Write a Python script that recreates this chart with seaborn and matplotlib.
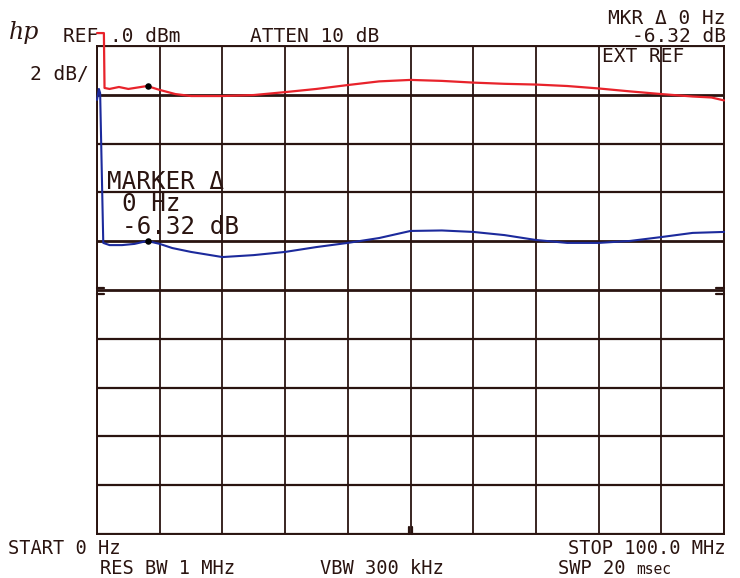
import numpy as np
import pandas as pd
import matplotlib
matplotlib.use("Agg")
import matplotlib.pyplot as plt
import seaborn as sns

# ---- data (MHz, dB relative to REF) ----
red_freq = [0.0, 1.1, 1.2, 2, 3.5, 5, 7, 8, 10, 12.5, 15, 20, 25, 30, 35, 40, 45, 50,
            55, 60, 65, 70, 75, 80, 85, 90, 95, 98, 100]
red_db = [0.53, 0.53, -1.72, -1.76, -1.68, -1.76, -1.68, -1.64, -1.80, -1.97, -2.05, -2.05,
          -2.01, -1.89, -1.76, -1.60, -1.45, -1.39, -1.43, -1.50, -1.55, -1.58, -1.64,
          -1.74, -1.86, -1.97, -2.07, -2.11, -2.23]

blue_freq = [0.0, 0.3, 0.5, 1.0, 2, 4, 6, 8, 10, 12, 15, 20, 25, 30, 35, 40, 45, 50,
             55, 60, 65, 70, 75, 80, 85, 90, 95, 100]
blue_db = [-2.21, -1.76, -1.93, -8.07, -8.16, -8.16, -8.11, -7.99, -8.11, -8.28, -8.44,
           -8.65, -8.57, -8.44, -8.24, -8.07, -7.87, -7.58, -7.56, -7.62, -7.75, -7.95,
           -8.07, -8.07, -7.99, -7.83, -7.66, -7.62]

marker_freq = [8.1, 8.1]
marker_db = [-1.64, -7.99]

x_ticks = list(range(0, 101, 10))
y_ticks = list(range(-20, 1, 2))

red_df = pd.DataFrame({"freq": red_freq, "db": red_db})
blue_df = pd.DataFrame({"freq": blue_freq, "db": blue_db})
mk_df = pd.DataFrame({"freq": marker_freq, "db": marker_db})

sns.set_style("white")
plt.rcParams["font.family"] = ["DejaVu Sans Mono", "DejaVu Sans"]

W, H = 740, 578
fig = plt.figure(figsize=(W / 100, H / 100), dpi=100)
L, R, T, B = 97, 724, 46, 534
ax = fig.add_axes([L / W, 1 - B / H, (R - L) / W, (B - T) / H])

grid_c = "#2a1410"
ax.set_xlim(0, 100)
ax.set_ylim(-20, 0)
for xv in x_ticks:
    ax.axvline(xv, color=grid_c, lw=1.3, zorder=1)
for yv in y_ticks:
    lw = 2.0 if yv in (-2, -8, -10) else 1.6
    ax.axhline(yv, color=grid_c, lw=lw, zorder=1)
ax.set_xticks([])
ax.set_yticks([])
for s in ax.spines.values():
    s.set_color(grid_c)
    s.set_linewidth(1.4)

sns.lineplot(data=red_df, x="freq", y="db", ax=ax, color="#e8232b", lw=1.6,
             sort=False, estimator=None, clip_on=False, zorder=3)
sns.lineplot(data=blue_df, x="freq", y="db", ax=ax, color="#1c2a9c", lw=1.5,
             sort=False, estimator=None, clip_on=False, zorder=3)
sns.scatterplot(data=mk_df, x="freq", y="db", ax=ax, color="black", s=22,
                zorder=4, linewidth=0)
ax.set_xlabel("")
ax.set_ylabel("")

# small reference ticks
tk = dict(color=grid_c, lw=1.6, clip_on=False, zorder=2)
ax.plot([0, 1.1], [-9.9, -9.9], **tk)
ax.plot([0, 1.1], [-10.15, -10.15], **tk)
ax.plot([98.8, 100], [-9.9, -9.9], **tk)
ax.plot([98.8, 100], [-10.15, -10.15], **tk)
ax.plot([49.8, 49.8], [-20, -19.7], **tk)
ax.plot([50.3, 50.3], [-20, -19.7], **tk)


def t(x, y, s, ha="left", size=14, **kw):
    fig.text(x / W, 1 - y / H, s, ha=ha, va="center", fontsize=size,
             color="#2a1410", **kw)


t(9, 33, "hp", size=17, family="DejaVu Serif", style="italic")
t(63, 36, "REF .0 dBm")
t(250, 36, "ATTEN 10 dB")
t(726, 18, "MKR Δ 0 Hz", ha="right")
t(726, 37, "-6.32 dB", ha="right")
t(602, 56, "EXT REF")
t(30, 74, "2 dB/")
t(107, 182, "MARKER Δ", size=17.5)
t(122, 204, "0 Hz", size=17.5)
t(122, 227, "-6.32 dB", size=17.5)
t(8, 548, "START 0 Hz", size=13.5)
t(726, 548, "STOP 100.0 MHz", ha="right", size=13.5)
t(100, 568, "RES BW 1 MHz", size=13.5)
t(320, 568, "VBW 300 kHz", size=13.5)
t(558, 568, "SWP 20", size=13.5)
t(636, 569, "msec", size=10.5)

fig.savefig("out.png", dpi=100, facecolor="white")
